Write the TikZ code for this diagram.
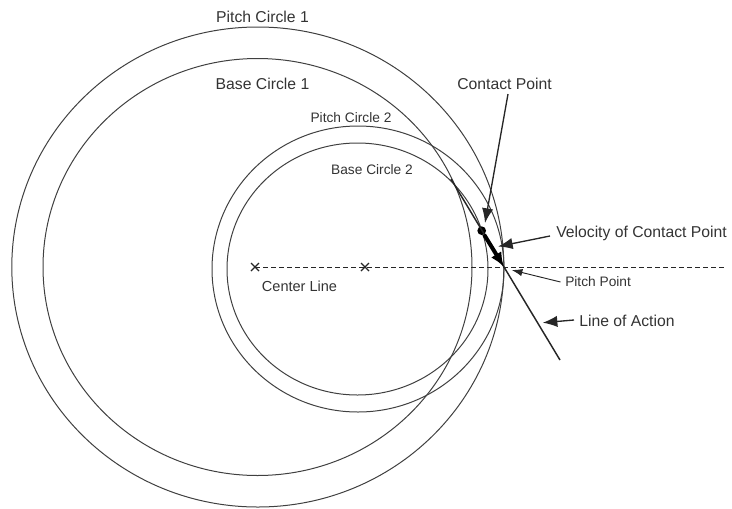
\documentclass[tikz,border=0pt]{standalone}
\usepackage{fontspec}
\setmainfont{Liberation Sans}
\usetikzlibrary{arrows.meta}
\tikzset{
  gearcircle/.style={draw=black!75, line width=0.75pt},
  callout/.style={-{Latex[length=11pt,width=8.5pt]}, line width=1pt, black!85},
  smallcallout/.style={-{Latex[length=8pt,width=5.5pt]}, line width=0.7pt, black!85},
  label/.style={inner sep=0pt, text=black!80, font=\fontsize{11.8}{14}\selectfont},
  smalllabel/.style={inner sep=0pt, text=black!80, font=\fontsize{10.3}{12}\selectfont},
}
\begin{document}
\begin{tikzpicture}[x=0.75pt,y=-0.75pt]
  \useasboundingbox (0,0) rectangle (732,508);
  \draw [gearcircle] (257.8,267) ellipse [x radius=246, y radius=240];   %pitch 1
  \draw [gearcircle] (257.5,267) ellipse [x radius=214.5, y radius=208.5];%base 1
  \draw [gearcircle] (358,269)   ellipse [x radius=146, y radius=143];   %pitch 2
  \draw [gearcircle] (357.5,269) ellipse [x radius=130.5, y radius=126]; %base 2

  \coordinate (crossA)  at (255,267);
  \coordinate (crossB)  at (365,267);
  \coordinate (lineEnd) at (726,267);
  \coordinate (pitch)   at (504,267);
  \coordinate (actionStart) at (451,179);
  \coordinate (actionEnd)   at (560,360);
  \node [fill=black, circle, inner sep=0pt, minimum size=6.5pt] (contact) at (481.7,230.7) {};

  \draw [line width=0.7pt, dash pattern=on 4pt off 2pt, black!85] (crossA) -- (lineEnd);
  \draw [line width=0.9pt, black!85] (crossA) ++(-4,-4) -- ++(8,8) (crossA) ++(-4,4) -- ++(8,-8);
  \draw [line width=0.9pt, black!85] (crossB) ++(-4,-4) -- ++(8,8) (crossB) ++(-4,4) -- ++(8,-8);

  \draw [line width=1.1pt, black!85] (actionStart) -- (actionEnd);   %line of action
  \draw [line width=3pt, -{Latex[length=11pt,width=9pt]}] (contact) -- (pitch);

  \node [label] (pitchA) at (262.5,17)  {Pitch Circle 1};
  \node [label] (baseA)  at (262.5,84)  {Base Circle 1};
  \node [smalllabel] (pitchB) at (351,118) {Pitch Circle 2};
  \node [smalllabel] (baseB)  at (372,170) {Base Circle 2};
  \node [inner sep=0pt, text=black!80, font=\fontsize{10.9}{13}\selectfont] (center) at (299.5,286) {Center Line};
  \node [label] (contactText)  at (504.5,84)  {Contact Point};
  \node [label, anchor=west] (velocityText) at (556,233) {Velocity of Contact Point};
  \node [smalllabel, anchor=west] (pitchText)  at (565,282) {Pitch Point};
  \node [label, anchor=west] (actionText) at (579,321) {Line of Action};

  \draw [callout] (contactText.south) ++(3.5,4) coordinate (contactFrom) -- (485,223);
  \draw [callout] (velocityText.west) ++(-6,3) coordinate (velocityFrom) -- (498,246.5);
  \draw [smallcallout] (pitchText.west) ++(-4.5,0) coordinate (pitchFrom) -- (511.7,270);
  \draw [callout] (actionText.west) ++(-5,-1) coordinate (actionFrom) -- (542.7,322.7);
\end{tikzpicture}
\end{document}
